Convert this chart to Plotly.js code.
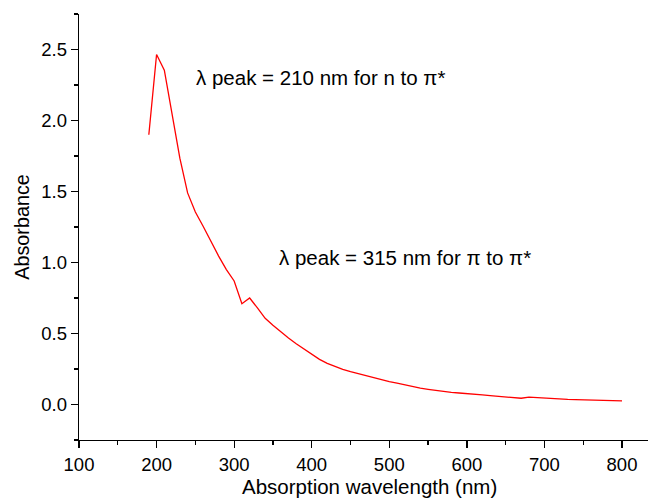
<!DOCTYPE html>
<html>
<head>
<meta charset="utf-8">
<script src="https://cdn.plot.ly/plotly-3.0.1.min.js"></script>
<style>html,body{margin:0;padding:0;background:#fff;}#chart{width:648px;height:498px;}</style>
</head>
<body>
<div id="chart"></div>
<script>
var wavelengths = [190,200,210,220,230,240,250,260,270,280,290,300,310,320,330,340,350,360,370,380,390,400,410,420,430,440,450,460,470,480,490,500,510,520,530,540,550,560,570,580,590,600,610,620,630,640,650,660,670,680,690,700,710,720,730,740,750,760,770,780,790,800];
var absorbance = [1.90,2.465,2.355,2.05,1.735,1.49,1.355,1.255,1.145,1.045,0.95,0.87,0.71,0.75,0.68,0.607,0.558,0.51,0.468,0.428,0.39,0.353,0.318,0.29,0.266,0.247,0.231,0.216,0.203,0.19,0.176,0.161,0.150,0.138,0.125,0.115,0.107,0.099,0.092,0.086,0.081,0.078,0.073,0.068,0.063,0.059,0.055,0.052,0.044,0.052,0.048,0.044,0.040,0.038,0.036,0.034,0.033,0.031,0.030,0.029,0.027,0.026];
var xTickVals = [100,200,300,400,500,600,700,800];
var yTickVals = [0.0,0.5,1.0,1.5,2.0,2.5];
var yTickText = ["0.0","0.5","1.0","1.5","2.0","2.5"];
var xTitle = "Absorption wavelength (nm)";
var yTitle = "Absorbance";
var labelN = "λ peak = 210 nm for n to π*";
var labelPi = "λ peak = 315 nm for π to π*";

var font = "Liberation Sans, Arial, Helvetica, sans-serif";

var trace = {
  x: wavelengths, y: absorbance, type: "scatter", mode: "lines",
  line: {color: "#ff0000", width: 1.3}, hoverinfo: "skip"
};

var layout = {
  width: 648, height: 498,
  margin: {l: 79, r: 0, t: 14, b: 58, pad: 0},
  paper_bgcolor: "#ffffff", plot_bgcolor: "#ffffff",
  showlegend: false,
  font: {family: font, size: 18.5, color: "#000"},
  xaxis: {
    range: [100, 833.5], showgrid: false, zeroline: false,
    showline: true, linecolor: "#000", linewidth: 1.3,
    ticks: "outside", ticklen: 7, tickwidth: 1.3, tickcolor: "#000",
    tickvals: xTickVals,
    minor: {dtick: 50, ticks: "outside", ticklen: 4, tickwidth: 1.3, tickcolor: "#000", showgrid: false},
    tickfont: {family: font, size: 18.5, color: "#000"}
  },
  yaxis: {
    range: [-0.25, 2.75], showgrid: false, zeroline: false,
    showline: true, linecolor: "#000", linewidth: 1.3,
    ticks: "outside", ticklen: 7, tickwidth: 1.3, tickcolor: "#000",
    tickvals: yTickVals, ticktext: yTickText,
    minor: {dtick: 0.25, ticks: "outside", ticklen: 4, tickwidth: 1.3, tickcolor: "#000", showgrid: false},
    tickfont: {family: font, size: 18.5, color: "#000"},
    title: {text: yTitle, font: {family: font, size: 19.8, color: "#000"}, standoff: 6}
  },
  annotations: [
    {text: xTitle, xref: "paper", yref: "paper", x: 0.5105, y: -0.108,
     xanchor: "center", yanchor: "middle", showarrow: false,
     font: {family: font, size: 20.5, color: "#000"}},
    {text: labelN, x: 410.7, y: 2.30, xref: "x", yref: "y", showarrow: false,
     font: {family: font, size: 20.5, color: "#000"}},
    {text: labelPi, x: 520, y: 1.035, xref: "x", yref: "y", showarrow: false,
     font: {family: font, size: 20.5, color: "#000"}}
  ]
};

Plotly.newPlot("chart", [trace], layout, {displayModeBar: false, staticPlot: true});
</script>
</body>
</html>
